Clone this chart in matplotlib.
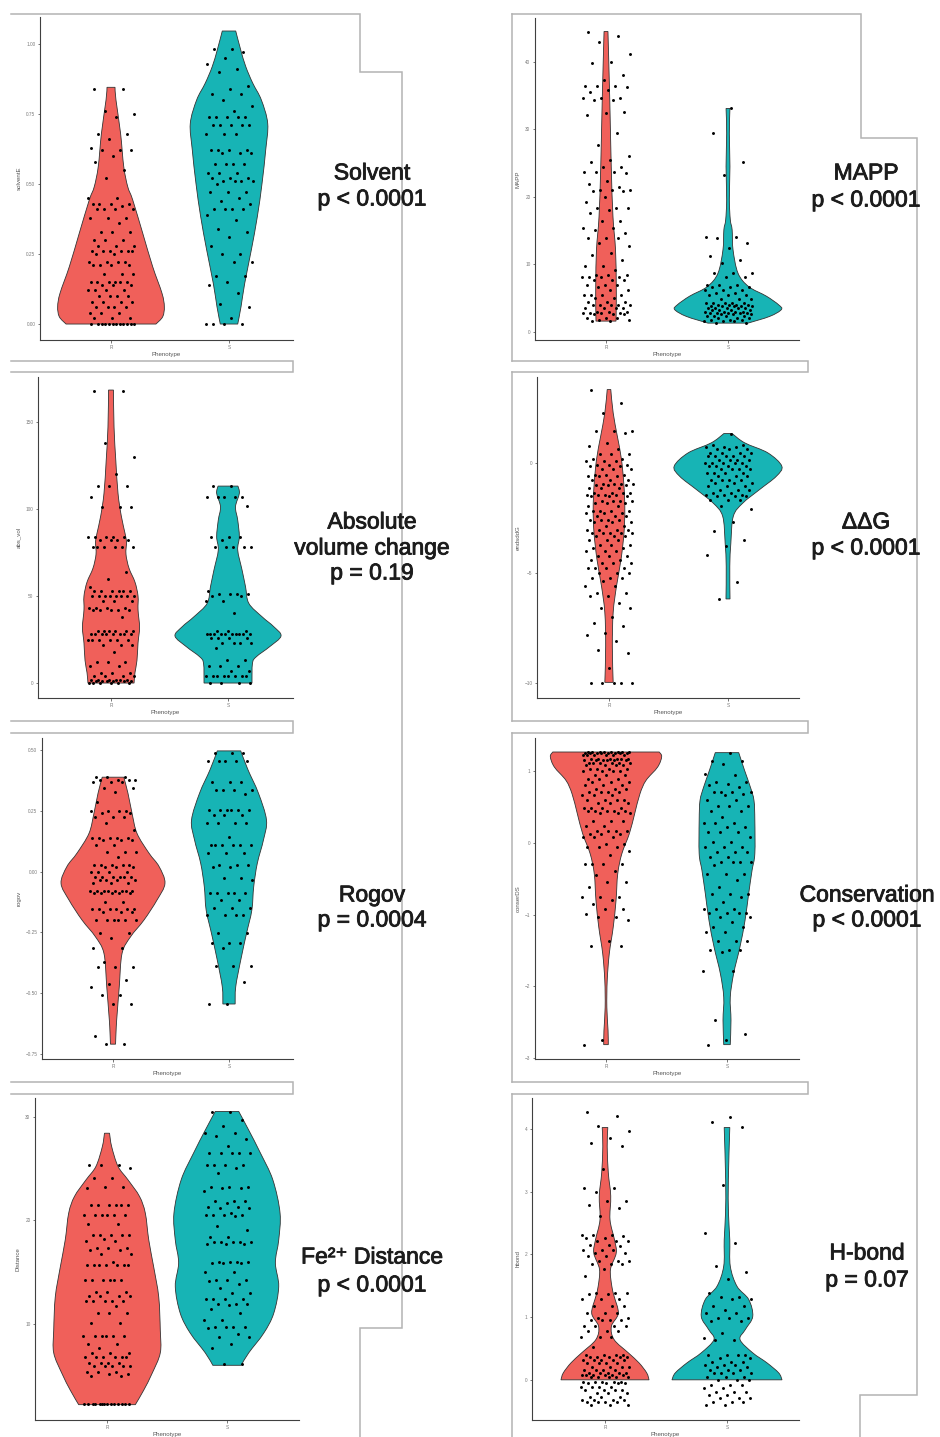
import numpy as np
import matplotlib
matplotlib.use('Agg')
import matplotlib.pyplot as plt
import matplotlib.patheffects as pe
from matplotlib.path import Path
from matplotlib.patches import PathPatch

plt.rcParams['font.family'] = ['Liberation Sans', 'DejaVu Sans']

W, H = 940, 1437
RED = '#f0605a'
TEAL = '#17b4b5'
FRAME = '#b3b3b3'

# ---------------- data ----------------
# violin outlines: value levels and half widths (in units of category spacing)
solvent_r_lev = [0.0, 0.026, 0.062, 0.110, 0.205, 0.324, 0.443, 0.490, 0.562, 0.681, 0.800, 0.845]
solvent_r_hw = [0.381, 0.438, 0.452, 0.432, 0.353, 0.269, 0.184, 0.142, 0.108, 0.081, 0.042, 0.034]
solvent_s_lev = [0.0, 0.062, 0.145, 0.264, 0.383, 0.502, 0.621, 0.716, 0.800, 0.860, 0.919, 0.979, 1.046]
solvent_s_hw = [0.074, 0.102, 0.133, 0.189, 0.240, 0.280, 0.311, 0.328, 0.274, 0.201, 0.142, 0.099, 0.057]

absvol_r_lev = [0, 6, 13, 23, 32, 42, 50, 58, 66, 74, 81, 86, 96, 109, 128, 147, 168.4]
absvol_r_hw = [0.197, 0.205, 0.222, 0.231, 0.244, 0.231, 0.231, 0.205, 0.154, 0.128, 0.132, 0.120, 0.088, 0.060, 0.041, 0.026, 0.021]
absvol_s_lev = [0, 11.3, 15.1, 20.9, 27, 32.4, 38.1, 45.8, 55.3, 65, 76.4, 84.1, 93.7, 101.3, 109, 113.2]
absvol_s_hw = [0.205, 0.209, 0.242, 0.356, 0.453, 0.391, 0.291, 0.178, 0.150, 0.120, 0.083, 0.097, 0.083, 0.064, 0.097, 0.085]

rogov_r_lev = [-0.709, -0.638, -0.583, -0.473, -0.336, -0.268, -0.199, -0.117, -0.048, 0.021, 0.076, 0.157, 0.240, 0.322, 0.388]
rogov_r_hw = [0.022, 0.028, 0.036, 0.054, 0.078, 0.151, 0.267, 0.379, 0.448, 0.397, 0.310, 0.207, 0.164, 0.129, 0.093]
rogov_s_lev = [-0.544, -0.473, -0.364, -0.254, -0.158, -0.062, 0.034, 0.130, 0.212, 0.322, 0.418, 0.496]
rogov_s_hw = [0.053, 0.058, 0.101, 0.151, 0.197, 0.213, 0.244, 0.297, 0.323, 0.254, 0.164, 0.101]

dist_r_lev = [2.2, 3.6, 5.2, 7.2, 9.4, 12.6, 15.5, 18.1, 20.7, 22.3, 23.9, 25.2, 27.1, 28.4]
dist_r_hw = [0.236, 0.306, 0.375, 0.444, 0.444, 0.431, 0.389, 0.348, 0.319, 0.271, 0.175, 0.092, 0.039, 0.021]
dist_s_lev = [6.0, 7.2, 9.1, 11.0, 13.6, 15.9, 18.1, 20.7, 23.9, 26.5, 28.7, 30.5]
dist_s_hw = [0.118, 0.181, 0.306, 0.389, 0.431, 0.403, 0.431, 0.442, 0.382, 0.278, 0.181, 0.098]

mapp_r_lev = [1.6, 3.8, 7.2, 12.2, 17.1, 24.5, 34.3, 44.5]
mapp_r_hw = [0.082, 0.084, 0.084, 0.078, 0.057, 0.043, 0.031, 0.016]
mapp_s_lev = [1.3, 2.3, 3.3, 4.0, 5.3, 6.7, 8.7, 12.2, 15.1, 16.6, 19.6, 24.5, 29.4, 33.1]
mapp_s_hw = [0.164, 0.342, 0.437, 0.416, 0.314, 0.170, 0.082, 0.041, 0.034, 0.019, 0.011, 0.016, 0.011, 0.016]

ddg_r_lev = [-9.97, -8.33, -6.8, -5.6, -4.39, -3.18, -2.12, -1.06, 0.15, 1.21, 2.27, 3.33]
ddg_r_hw = [0.035, 0.028, 0.035, 0.063, 0.101, 0.126, 0.133, 0.126, 0.105, 0.070, 0.035, 0.015]
ddg_s_lev = [-6.18, -4.70, -3.64, -2.42, -1.82, -1.21, -0.61, -0.15, 0.45, 0.91, 1.33]
ddg_s_hw = [0.017, 0.015, 0.024, 0.045, 0.126, 0.266, 0.406, 0.452, 0.336, 0.140, 0.035]

cons_r_lev = [-2.81, -2.614, -2.29, -1.917, -1.545, -1.17, -0.80, -0.43, -0.151, 0.128, 0.406, 0.685, 0.87, 1.056, 1.20, 1.265]
cons_r_hw = [0.019, 0.017, 0.007, 0.010, 0.027, 0.060, 0.083, 0.097, 0.131, 0.193, 0.237, 0.281, 0.331, 0.427, 0.460, 0.440]
cons_s_lev = [-2.81, -2.47, -2.15, -1.82, -1.45, -1.08, -0.709, -0.384, -0.151, 0.313, 0.59, 0.777, 1.01, 1.256]
cons_s_hw = [0.027, 0.033, 0.027, 0.055, 0.107, 0.149, 0.179, 0.207, 0.230, 0.230, 0.223, 0.193, 0.145, 0.097]

hbond_r_lev = [0, 0.11, 0.27, 0.43, 0.64, 0.85, 1.06, 1.33, 1.49, 1.76, 2.02, 2.23, 2.55, 2.93, 3.30, 3.72, 4.02]
hbond_r_hw = [0.361, 0.342, 0.279, 0.191, 0.075, 0.052, 0.109, 0.075, 0.056, 0.045, 0.092, 0.078, 0.041, 0.047, 0.027, 0.018, 0.023]
hbond_s_lev = [0, 0.11, 0.27, 0.43, 0.64, 0.80, 1.01, 1.28, 1.49, 1.81, 2.23, 2.66, 3.19, 4.02]
hbond_s_hw = [0.451, 0.424, 0.328, 0.211, 0.107, 0.150, 0.211, 0.178, 0.082, 0.027, 0.023, 0.012, 0.011, 0.023]

# jittered observations: (value, number of variants at that value)
solvent_r_pts = [(0.84, 2), (0.76, 1), (0.75, 1), (0.74, 1), (0.68, 2), (0.66, 1), (0.63, 1), (0.62, 3), (0.60, 1),
                 (0.58, 1), (0.55, 1), (0.52, 1), (0.45, 2), (0.43, 4), (0.42, 1), (0.41, 4), (0.38, 3), (0.36, 1),
                 (0.33, 3), (0.30, 3), (0.28, 3), (0.26, 6), (0.25, 2), (0.22, 4), (0.21, 4), (0.18, 3), (0.15, 6),
                 (0.14, 3), (0.12, 4), (0.10, 4), (0.08, 4), (0.06, 4), (0.04, 3), (0.02, 3), (0.0, 12)]
solvent_s_pts = [(0.98, 2), (0.97, 1), (0.95, 1), (0.93, 1), (0.91, 1), (0.90, 1), (0.85, 1), (0.84, 1), (0.82, 2),
                 (0.80, 1), (0.78, 1), (0.76, 1), (0.74, 5), (0.71, 5), (0.68, 3), (0.62, 4), (0.61, 3), (0.57, 4),
                 (0.54, 3), (0.52, 3), (0.51, 4), (0.50, 1), (0.47, 3), (0.45, 1), (0.44, 1), (0.43, 1), (0.41, 4),
                 (0.39, 1), (0.37, 1), (0.34, 1), (0.33, 1), (0.31, 1), (0.28, 1), (0.25, 2), (0.22, 2), (0.17, 2),
                 (0.15, 1), (0.14, 1), (0.11, 1), (0.07, 1), (0.06, 1), (0.02, 1), (0.0, 4)]

absvol_r_pts = [(168, 2), (138, 1), (130, 1), (120, 1), (113, 3), (107, 1), (101, 3), (84, 5), (82, 4), (78, 6),
                (64, 1), (60, 1), (55, 1), (53, 6), (50, 8), (47, 3), (43, 4), (42, 5), (38, 1), (30, 6), (28, 8),
                (25, 6), (22, 3), (18, 1), (12, 3), (10, 2), (6, 3), (4, 4), (2, 6), (1, 6), (0, 6)]
absvol_s_pts = [(113, 2), (107, 5), (102, 1), (84, 3), (82, 1), (78, 5), (53, 1), (51, 4), (50, 2), (47, 2),
                (40, 1), (30, 3), (28, 10), (26, 4), (23, 4), (20, 1), (13, 2), (10, 3), (7, 2), (4, 8), (0, 4)]

rogov_r_pts = [(0.388, 3), (0.377, 4), (0.370, 3), (0.342, 2), (0.329, 1), (0.287, 1), (0.250, 4), (0.240, 2),
               (0.226, 3), (0.199, 1), (0.171, 1), (0.137, 5), (0.130, 3), (0.109, 2), (0.082, 3), (0.061, 1),
               (0.027, 5), (0.020, 3), (0.0, 4), (-0.021, 6), (-0.035, 4), (-0.048, 3), (-0.079, 8), (-0.089, 5),
               (-0.124, 2), (-0.155, 6), (-0.165, 3), (-0.199, 6), (-0.254, 2), (-0.274, 1), (-0.315, 2),
               (-0.370, 1), (-0.391, 3), (-0.446, 1), (-0.462, 1), (-0.473, 1), (-0.507, 2), (-0.544, 2),
               (-0.676, 1), (-0.709, 2)]
rogov_s_pts = [(0.486, 3), (0.455, 5), (0.370, 3), (0.336, 4), (0.319, 1), (0.253, 6), (0.233, 3), (0.199, 4),
               (0.144, 1), (0.109, 6), (0.075, 3), (0.027, 3), (0.020, 2), (-0.028, 2), (-0.035, 1), (-0.089, 5),
               (-0.117, 2), (-0.151, 3), (-0.178, 4), (-0.254, 2), (-0.295, 3), (-0.315, 1), (-0.388, 3),
               (-0.453, 1), (-0.544, 2)]

dist_r_pts = [(25.3, 3), (25.0, 1), (24.1, 2), (23.2, 2), (23.1, 1), (21.5, 6), (20.5, 6), (19.6, 2), (18.6, 5),
              (18.2, 1), (18.0, 2), (17.3, 3), (17.1, 2), (16.7, 2), (16.0, 1), (15.7, 7), (14.25, 6), (13.1, 3),
              (12.7, 4), (12.2, 5), (11.7, 1), (11.0, 3), (10.1, 2), (8.8, 6), (8.1, 2), (7.65, 1), (7.2, 3),
              (6.8, 6), (6.2, 4), (5.9, 5), (5.4, 3), (5.2, 2), (5.0, 2), (2.3, 14)]
dist_s_pts = [(30.45, 2), (29.7, 1), (29.06, 1), (28.4, 2), (28.1, 1), (27.85, 1), (27.2, 1), (26.5, 5), (25.3, 4),
              (25.0, 1), (24.6, 1), (23.2, 3), (23.1, 2), (22.8, 1), (21.9, 3), (21.7, 1), (21.3, 2), (21.2, 2),
              (20.7, 1), (20.5, 4), (20.4, 1), (19.4, 1), (19.1, 1), (18.4, 2), (17.9, 5), (17.7, 3), (16.0, 4),
              (15.9, 3), (15.0, 2), (14.25, 3), (14.1, 1), (13.8, 1), (13.45, 1), (13.0, 2), (12.4, 4), (11.9, 3),
              (11.8, 1), (11.4, 1), (11.0, 1), (10.4, 2), (9.7, 4), (9.6, 1), (9.0, 1), (8.7, 2), (8.1, 1),
              (7.65, 1), (6.1, 2)]

mapp_r_pts = [(44.4, 1), (43.8, 1), (43.0, 1), (41.2, 1), (40.0, 1), (39.9, 1), (38.0, 1), (37.3, 1), (36.4, 3),
              (36.3, 1), (35.8, 1), (35.6, 1), (34.6, 3), (34.4, 1), (34.3, 1), (32.6, 1), (32.4, 1), (32.1, 1),
              (29.4, 1), (27.7, 1), (26.0, 1), (25.5, 1), (25.2, 1), (24.5, 2), (23.7, 3), (23.5, 1), (22.3, 1),
              (21.9, 1), (21.5, 1), (21.0, 3), (20.8, 2), (20.0, 1), (19.3, 1), (18.3, 3), (18.1, 1), (17.6, 1),
              (16.4, 2), (15.4, 2), (15.1, 1), (14.6, 1), (13.9, 3), (13.2, 1), (12.7, 1), (11.7, 1), (11.4, 1),
              (10.7, 1), (9.7, 2), (9.2, 1), (8.5, 3), (8.2, 4), (7.7, 3), (7.0, 3), (6.7, 1), (6.25, 2), (5.5, 4),
              (5.0, 2), (4.5, 3), (4.0, 5), (3.5, 4), (3.0, 3), (2.8, 4), (2.6, 3), (2.1, 3), (1.8, 2), (1.6, 2)]
mapp_s_pts = [(33.1, 1), (29.5, 1), (25.2, 1), (23.3, 1), (14.1, 2), (13.9, 1), (13.2, 1), (12.4, 1), (11.2, 1),
              (10.7, 1), (10.2, 1), (8.7, 3), (8.2, 2), (7.0, 3), (6.7, 3), (6.25, 3), (5.8, 2), (5.4, 3), (4.9, 3),
              (4.3, 5), (4.0, 4), (3.8, 5), (3.5, 5), (3.3, 4), (3.0, 4), (2.8, 5), (2.6, 3), (2.3, 4), (2.1, 3),
              (1.8, 3), (1.6, 3), (1.3, 2)]

ddg_r_pts = [(3.30, 1), (2.73, 1), (2.27, 1), (1.44, 3), (1.36, 1), (0.91, 1), (0.76, 1), (0.61, 1), (0.38, 3),
             (0.18, 2), (0.07, 3), (-0.08, 3), (-0.15, 2), (-0.30, 3), (-0.53, 3), (-0.61, 3), (-0.79, 3),
             (-0.94, 4), (-0.99, 3), (-1.14, 3), (-1.36, 4), (-1.44, 4), (-1.52, 3), (-1.74, 4), (-1.82, 3),
             (-1.97, 2), (-2.20, 4), (-2.27, 3), (-2.42, 3), (-2.58, 4), (-2.70, 3), (-2.88, 2), (-3.03, 4),
             (-3.18, 5), (-3.34, 3), (-3.49, 3), (-3.71, 3), (-3.86, 2), (-4.02, 3), (-4.24, 3), (-4.39, 2),
             (-4.55, 3), (-4.77, 4), (-5.0, 3), (-5.23, 3), (-5.38, 1), (-5.61, 2), (-5.91, 2), (-6.06, 2),
             (-6.36, 1), (-6.59, 2), (-7.0, 1), (-7.27, 1), (-7.42, 1), (-7.73, 1), (-7.80, 1), (-8.11, 1),
             (-8.49, 1), (-8.64, 1), (-9.32, 1), (-10.0, 5)]
ddg_s_pts = [(1.33, 1), (0.83, 2), (0.73, 3), (0.61, 3), (0.45, 4), (0.30, 5), (0.15, 4), (0.0, 5), (-0.15, 4),
             (-0.30, 4), (-0.45, 4), (-0.61, 3), (-0.76, 4), (-0.91, 3), (-1.06, 3), (-1.21, 3), (-1.36, 2),
             (-1.44, 3), (-1.52, 3), (-1.67, 3), (-1.97, 1), (-2.09, 1), (-2.68, 1), (-3.11, 1), (-3.49, 1),
             (-3.79, 1), (-4.17, 1), (-5.43, 1), (-6.18, 1)]

cons_r_pts = [(1.26, 8), (1.25, 8), (1.22, 6), (1.17, 6), (1.15, 6), (1.11, 6), (1.08, 4), (1.03, 4), (1.0, 4),
              (0.94, 3), (0.89, 3), (0.85, 3), (0.80, 3), (0.755, 3), (0.71, 4), (0.66, 3), (0.59, 4), (0.55, 3),
              (0.49, 4), (0.45, 5), (0.41, 3), (0.31, 3), (0.24, 2), (0.17, 4), (0.13, 3), (0.08, 3), (-0.01, 2),
              (-0.06, 3), (-0.115, 1), (-0.175, 1), (-0.29, 4), (-0.39, 1), (-0.45, 1), (-0.55, 2), (-0.62, 1),
              (-0.76, 3), (-0.80, 1), (-0.85, 1), (-0.92, 2), (-0.99, 1), (-1.035, 2), (-1.07, 1), (-1.37, 1),
              (-1.44, 2), (-2.75, 1), (-2.81, 1)]
cons_s_pts = [(1.256, 1), (1.14, 2), (1.10, 1), (0.96, 1), (0.94, 1), (0.85, 2), (0.82, 1), (0.80, 1), (0.78, 1),
              (0.71, 4), (0.685, 1), (0.66, 1), (0.59, 2), (0.52, 3), (0.45, 2), (0.36, 1), (0.27, 3), (0.22, 2),
              (0.15, 3), (0.08, 1), (0.01, 2), (-0.06, 3), (-0.13, 3), (-0.2, 2), (-0.27, 4), (-0.31, 1),
              (-0.43, 3), (-0.52, 1), (-0.62, 1), (-0.71, 3), (-0.76, 1), (-0.83, 1), (-0.92, 3), (-0.98, 4),
              (-1.035, 2), (-1.10, 1), (-1.17, 2), (-1.24, 2), (-1.36, 3), (-1.49, 3), (-1.52, 1), (-1.78, 2),
              (-2.47, 1), (-2.66, 1), (-2.75, 1), (-2.81, 1)]

hbond_r_pts = [(4.27, 1), (4.20, 1), (4.04, 1), (3.96, 1), (3.86, 1), (3.78, 1), (3.72, 1), (3.36, 1), (3.06, 2),
               (3.0, 1), (2.85, 2), (2.78, 1), (2.74, 1), (2.61, 1), (2.31, 3), (2.29, 1), (2.26, 2), (2.21, 3),
               (2.15, 2), (2.13, 1), (2.07, 3), (2.02, 2), (1.97, 2), (1.89, 3), (1.84, 3), (1.76, 1), (1.65, 1),
               (1.38, 3), (1.36, 2), (1.28, 3), (1.17, 3), (1.06, 3), (0.98, 2), (0.96, 4), (0.85, 4), (0.77, 3),
               (0.69, 3), (0.53, 1), (0.40, 4), (0.37, 5), (0.32, 5), (0.27, 4), (0.21, 4), (0.16, 4), (0.11, 5),
               (0.08, 6), (0.05, 5), (-0.03, 5), (-0.05, 4), (-0.11, 4), (-0.16, 4), (-0.21, 3), (-0.27, 3),
               (-0.32, 4), (-0.35, 4), (-0.40, 3)]
hbond_s_pts = [(4.18, 1), (4.10, 1), (4.03, 1), (3.10, 1), (2.34, 1), (2.18, 1), (1.81, 1), (1.71, 1), (1.61, 1),
               (1.38, 1), (1.32, 2), (1.28, 2), (1.17, 2), (1.12, 1), (1.06, 2), (0.98, 3), (0.93, 2), (0.74, 1),
               (0.66, 1), (0.64, 2), (0.40, 4), (0.35, 2), (0.29, 3), (0.24, 3), (0.20, 2), (0.16, 3), (0.11, 4),
               (0.05, 3), (0.0, 3), (-0.08, 3), (-0.13, 2), (-0.19, 3), (-0.24, 2), (-0.29, 3), (-0.35, 3),
               (-0.40, 2)]

# axis settings per variable
y_titles = ['solventE', 'abs_vol', 'rogov', 'Distance', 'MAPP', 'endsddG', 'conserDS', 'hbond']
y_limits = [(-0.057, 1.096), (-8.6, 175.9), (-0.77, 0.549), (0.72, 31.8),
            (-1.2, 46.5), (-10.68, 3.9), (-3.01, 1.46), (-0.64, 4.49)]
y_ticks = [[0, 0.25, 0.5, 0.75, 1.0], [0, 50, 100, 150], [-0.75, -0.5, -0.25, 0, 0.25, 0.5], [10, 20, 30],
           [0, 10, 20, 30, 40], [-10, -5, 0], [-3, -2, -1, 0, 1], [0, 1, 2, 3, 4]]
y_ticklabels = [['0.00', '0.25', '0.50', '0.75', '1.00'], ['0', '50', '100', '150'],
                ['−0.75', '−0.50', '−0.25', '0.00', '0.25', '0.50'], ['10', '20', '30'],
                ['0', '10', '20', '30', '40'], ['−10', '−5', '0'], ['−3', '−2', '−1', '0', '1'],
                ['0', '1', '2', '3', '4']]
phenotypes = ['R', 'S']
headings = [['Solvent', 'p < 0.0001'], ['Absolute', 'volume change', 'p = 0.19'], ['Rogov', 'p = 0.0004'],
            ['Fe²⁺ Distance', 'p < 0.0001'], ['MAPP', 'p < 0.0001'], ['ΔΔG', 'p < 0.0001'],
            ['Conservation', 'p < 0.0001'], ['H-bond', 'p = 0.07']]

violins = [
    (solvent_r_lev, solvent_r_hw, solvent_s_lev, solvent_s_hw, solvent_r_pts, solvent_s_pts),
    (absvol_r_lev, absvol_r_hw, absvol_s_lev, absvol_s_hw, absvol_r_pts, absvol_s_pts),
    (rogov_r_lev, rogov_r_hw, rogov_s_lev, rogov_s_hw, rogov_r_pts, rogov_s_pts),
    (dist_r_lev, dist_r_hw, dist_s_lev, dist_s_hw, dist_r_pts, dist_s_pts),
    (mapp_r_lev, mapp_r_hw, mapp_s_lev, mapp_s_hw, mapp_r_pts, mapp_s_pts),
    (ddg_r_lev, ddg_r_hw, ddg_s_lev, ddg_s_hw, ddg_r_pts, ddg_s_pts),
    (cons_r_lev, cons_r_hw, cons_s_lev, cons_s_hw, cons_r_pts, cons_s_pts),
    (hbond_r_lev, hbond_r_hw, hbond_s_lev, hbond_s_hw, hbond_r_pts, hbond_s_pts),
]

# ---------------- layout (pixels) ----------------
# plot box: left, top, right, bottom, x of R, x of S
boxes = [(40, 17, 293, 340, 111, 229), (38, 377, 293, 698, 111, 228),
         (42, 738, 293, 1059, 113, 229), (35, 1098, 299, 1420, 107, 227),
         (535, 18, 799, 340, 606, 728), (537, 377, 799, 698, 609, 728),
         (535, 738, 799, 1059, 606, 727), (532, 1098, 799, 1420, 605, 727)]
heading_pos = [(372, [173, 199]), (372, [522, 548, 573]), (372, [895, 920]), (372, [1257, 1285]),
               (866, [173, 200]), (866, [522, 548]), (867, [895, 920]), (867, [1253, 1280])]


def expand(pairs):
    return np.array([v for v, n in pairs for _ in range(n)], dtype=float)


def jitter(n, phase):
    # evenly spread horizontal offsets within +/-0.2 of the category
    k = np.arange(n)
    return (np.mod(k * 0.618034 + phase, 1.0) - 0.5) * 0.4


def side(xs, ys):
    # smooth curve through the outline points (Catmull-Rom as cubic Bezier)
    pts = np.column_stack([xs, ys])
    n = len(pts)
    verts = []
    for i in range(n - 1):
        p0, p1 = pts[max(i - 1, 0)], pts[i]
        p2, p3 = pts[i + 1], pts[min(i + 2, n - 1)]
        verts += [p1 + (p2 - p0) / 6.0, p2 - (p3 - p1) / 6.0, p2]
    return verts


def draw_violin(ax, pos, lev, hw, color):
    lev = np.asarray(lev, dtype=float)
    hw = np.asarray(hw, dtype=float)
    right = side(pos + hw, lev)
    left = side((pos - hw)[::-1], lev[::-1])
    verts = [(pos - hw[0], lev[0]), (pos + hw[0], lev[0])] + right
    codes = [Path.MOVETO, Path.LINETO] + [Path.CURVE4] * len(right)
    verts += [(pos - hw[-1], lev[-1])] + left + [(pos - hw[0], lev[0])]
    codes += [Path.LINETO] + [Path.CURVE4] * len(left) + [Path.CLOSEPOLY]
    patch = PathPatch(Path(np.array(verts, dtype=float), codes), facecolor=color,
                      edgecolor='#333333', lw=0.6, zorder=2)
    ax.add_patch(patch)


fig = plt.figure(figsize=(W / 100, H / 100), dpi=100)

# grey frames around the panels
bg = fig.add_axes([0, 0, 1, 1])
bg.set_xlim(0, W)
bg.set_ylim(H, 0)
bg.axis('off')
frame_kw = dict(color=FRAME, lw=1.1, solid_joinstyle='miter')
bg.plot([11, 360, 360, 402, 402, 360, 360], [14, 14, 72, 72, 1328, 1328, 1437], **frame_kw)
bg.plot([512, 861, 861, 917, 917, 860, 860], [14, 14, 138, 138, 1395, 1395, 1437], **frame_kw)
for t, b in [(361, 372), (721, 733), (1082, 1094)]:
    bg.plot([11, 293, 293, 11], [t, t, b, b], **frame_kw)
    bg.plot([512, 808, 808, 512], [t, t, b, b], **frame_kw)
for t, b in [(14, 361), (372, 721), (733, 1082), (1094, 1437)]:
    bg.plot([512, 512], [t, b], **frame_kw)

heavy = [pe.withStroke(linewidth=0.6, foreground='#1c1c1c')]

for i, (l, t, r, b, xr, xs) in enumerate(boxes):
    sp = xs - xr
    ax = fig.add_axes([l / W, 1 - b / H, (r - l) / W, (b - t) / H])
    ax.patch.set_alpha(0)
    r_lev, r_hw, s_lev, s_hw, r_pts, s_pts = violins[i]
    draw_violin(ax, 0, r_lev, r_hw, RED)
    draw_violin(ax, 1, s_lev, s_hw, TEAL)
    yr = expand(r_pts)
    ys = expand(s_pts)
    ax.scatter(0 + jitter(len(yr), 0.13), yr, s=4.5, color='black', lw=0, zorder=3)
    ax.scatter(1 + jitter(len(ys), 0.57), ys, s=4.5, color='black', lw=0, zorder=3)

    ax.set_xlim((l - xr) / sp, (r - xr) / sp)
    ax.set_ylim(*y_limits[i])
    ax.set_xticks([0, 1])
    ax.set_xticklabels(phenotypes)
    ax.set_yticks(y_ticks[i])
    ax.set_yticklabels(y_ticklabels[i])
    for s in ['top', 'right']:
        ax.spines[s].set_visible(False)
    for s in ['left', 'bottom']:
        ax.spines[s].set_color('#404040')
        ax.spines[s].set_linewidth(0.8)
    ax.tick_params(length=1.8, width=0.5, color='#404040', labelsize=3.4, labelcolor='#7a7a7a', pad=1.5)
    ax.set_xlabel('Phenotype', fontsize=4.4, color='#555555', labelpad=2)
    ax.set_ylabel(y_titles[i], fontsize=4.4, color='#555555', labelpad=3)

    cx, ys_txt = heading_pos[i]
    for line, yy in zip(headings[i], ys_txt):
        bg.text(cx, yy, line, ha='center', va='center', fontsize=16.5, color='#1c1c1c',
                zorder=5, path_effects=heavy)

fig.savefig('out.png', dpi=100)
